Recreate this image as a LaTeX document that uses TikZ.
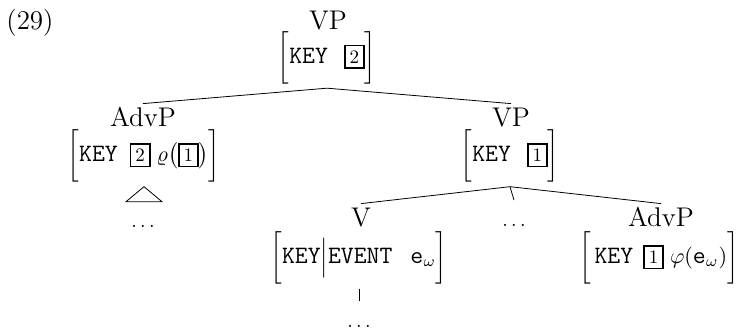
\RequirePackage{fix-cm}
\documentclass[tikz,border=0pt]{standalone}
\usepackage{amsmath}
\usepackage{fontspec}

\newcommand{\catfont}{\fontsize{13.5}{16}\selectfont}
\newcommand{\avmfont}{\fontsize{12.5}{14}\selectfont\ttfamily}
\newcommand{\feat}[1]{\mbox{\avmfont #1}}
\newcommand{\tagbox}[1]{\mbox{\fboxsep=2pt\fboxrule=0.8pt\fbox{\fontsize{9.5}{10}\selectfont #1}}}
\newcommand{\avm}[1]{$\left[\vcenter to 25pt{}#1\right]$}

\begin{document}
\begin{tikzpicture}[x=0.5pt,y=-0.5pt,font=\fontsize{11}{13}\selectfont,
  cat/.style={anchor=base,inner sep=3pt,text height=8pt,font=\catfont},
  avm/.style={inner sep=2pt},
  dotsnode/.style={anchor=base,inner sep=4pt,text height=9pt,font=\fontsize{10}{12}\selectfont}]
\useasboundingbox (0,0) rectangle (740,334);

\node[anchor=base,font=\catfont] (ex) at (30,29.5) {(29)};

% root
\node[cat] (vp) at (328,29.5) {VP};
\node[avm] (vpavm) at (327,57.5) {\avm{\feat{KEY}\hspace{8pt}\tagbox{2}}};

% left daughter
\node[cat] (advp) at (143,126) {AdvP};
\node[avm] (advpavm) at (144,156) {\avm{\feat{KEY}\hspace{6pt}\tagbox{2}\;\varrho\bigl(\tagbox{1}\bigr)}};
\node[dotsnode] (dotsa) at (143,227) {$\ldots$};

% right daughter
\node[cat] (vp2) at (511,126) {VP};
\node[avm] (vp2avm) at (510,156) {\avm{\feat{KEY}\hspace{8pt}\tagbox{1}}};

\node[cat] (v) at (361,226) {V};
\node[avm] (vavm) at (359,258) {\avm{\feat{KEY}\Big|\feat{EVENT}\hspace{9pt}\feat{e}_{\omega}}};
\node[dotsnode] (dotsb) at (514,226.5) {$\ldots$};
\node[cat] (advp2) at (661,226) {AdvP};
\node[avm] (advp2avm) at (659,258) {\avm{\,\feat{KEY}\hspace{5pt}\tagbox{1}\;\varphi(\feat{e}_{\omega})}};
\node[dotsnode] (dotsc) at (359,327) {$\ldots$};

\draw (vpavm.south) -- (advp.north);
\draw (vpavm.south) -- (vp2.north);
\draw (advpavm.south) -- ++(-18,15) -- ++(36,0) -- cycle;
\draw (vp2avm.south) -- (v.north);
\draw (vp2avm.south) -- (dotsb.north);
\draw (vp2avm.south) -- (advp2.north);
\draw (vavm.south) -- (dotsc.north);

\end{tikzpicture}
\end{document}
